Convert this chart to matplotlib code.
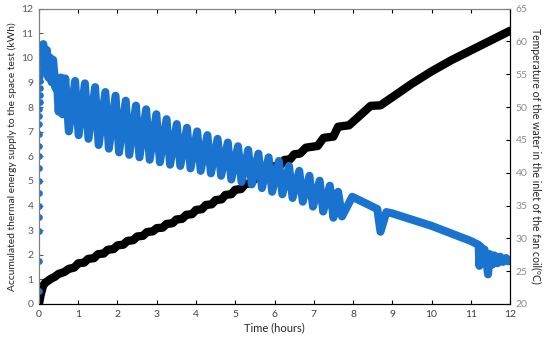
import matplotlib
matplotlib.use("Agg")
import matplotlib.pyplot as plt
import numpy as np

plt.rcParams['font.family'] = ['Lato', 'DejaVu Sans']

# accumulated thermal energy (kWh), left axis
energy_t = [0.0, 0.04, 0.1, 0.15, 0.3, 0.4, 0.5, 0.65, 0.75, 0.9,
            1.0, 1.15, 1.25, 1.4, 1.5, 1.65, 1.75, 1.9, 2.0, 2.15, 2.25, 2.4,
            2.5, 2.65, 2.75, 2.9, 3.0, 3.15, 3.25, 3.4, 3.5, 3.65, 3.75, 3.9,
            4.0, 4.15, 4.25, 4.4, 4.5, 4.65, 4.75, 4.9, 5.0, 5.15, 5.25, 5.4,
            5.5, 5.65, 5.75, 5.9, 6.0, 6.15, 6.25, 6.4, 6.5, 6.65, 6.8, 7.1,
            7.25, 7.5, 7.62, 7.9, 8.45, 8.7, 9.0, 9.5, 10.0, 10.5, 11.0, 11.5, 12.0]
energy_kwh = [0.0, 0.35, 0.72, 0.85, 1.02, 1.1, 1.22, 1.3, 1.42, 1.48,
              1.65, 1.68, 1.83, 1.86, 2.02, 2.05, 2.2, 2.23, 2.38, 2.41, 2.56, 2.59,
              2.74, 2.77, 2.92, 2.95, 3.08, 3.1, 3.25, 3.28, 3.43, 3.46, 3.62, 3.65,
              3.82, 3.85, 4.02, 4.05, 4.22, 4.25, 4.43, 4.46, 4.64, 4.67, 4.87, 4.9,
              5.1, 5.13, 5.35, 5.38, 5.6, 5.63, 5.85, 5.88, 6.08, 6.11, 6.35, 6.42,
              6.75, 6.8, 7.2, 7.26, 8.05, 8.07, 8.4, 8.95, 9.45, 9.9, 10.3, 10.7, 11.1]

# water temperature at fan coil inlet (C), right axis
# start-up points (separate dots on the axis)
start_t = [0.0, 0.0, 0.0, 0.0, 0.0, 0.0, 0.0, 0.0, 0.0, 0.0, 0.01, 0.01,
           0.01, 0.01, 0.02, 0.02, 0.02, 0.03, 0.03, 0.04, 0.05, 0.06, 0.08]
start_T = [21.9, 26.6, 31.1, 33.2, 35.0, 36.9, 38.8, 40.7, 42.6, 44.1, 45.9, 47.4,
           48.6, 49.7, 50.8, 51.9, 52.9, 53.9, 54.8, 55.7, 56.6, 57.5, 58.5]

# first oscillations after the peak
early_t = [0.11, 0.16, 0.2, 0.24, 0.28, 0.32, 0.36, 0.42, 0.45, 0.5, 0.56, 0.6]
early_T = [59.6, 55.3, 58.7, 54.5, 57.55, 53.8, 57.2, 52.9, 54.5, 49.3, 54.5, 48.9]

# regular cycles: peaks and troughs
peak_t = [0.67, 0.92, 1.17, 1.43, 1.69, 1.95, 2.21, 2.47, 2.73, 2.99, 3.25, 3.51,
          3.77, 4.03, 4.29, 4.55, 4.81, 5.07, 5.33, 5.59, 5.85, 6.11, 6.37, 6.63,
          6.89, 7.15, 7.41]
peak_T = [54.36, 53.98, 53.61, 53.04, 52.29, 51.73, 50.98, 50.23, 49.66, 48.91,
          48.16, 47.41, 46.85, 46.29, 45.72, 45.16, 44.6, 44.03, 43.47, 42.91,
          42.34, 41.78, 41.03, 40.28, 39.53, 38.78, 38.02]
trough_t = [0.76, 1.01, 1.26, 1.52, 1.78, 2.04, 2.3, 2.56, 2.82, 3.08, 3.34, 3.6,
            3.86, 4.12, 4.38, 4.64, 4.9, 5.16, 5.42, 5.68, 5.94, 6.2, 6.46, 6.72,
            6.98, 7.24, 7.5]
trough_T = [46.29, 45.72, 45.16, 44.22, 43.66, 43.09, 42.72, 42.34, 41.97, 41.59,
            41.22, 41.03, 40.65, 40.28, 39.9, 39.53, 38.96, 38.59, 38.21, 37.65,
            37.09, 36.71, 36.15, 35.58, 34.83, 34.08, 33.14]

# late part of the test
late_t = [7.62, 7.72, 7.98, 8.3, 8.62, 8.7, 8.85, 9.0, 10.0, 11.0, 11.2,
          11.22, 11.26, 11.3, 11.35, 11.4, 11.44, 11.48, 11.55, 11.6, 11.68,
          11.75, 11.82, 11.9, 11.96, 12.0]
late_T = [37.09, 33.33, 36.33, 35.4, 34.46, 31.0, 34.0, 33.8, 31.9, 29.6, 29.0,
          25.8, 28.7, 26.2, 28.3, 26.5, 24.5, 27.6, 26.0, 27.4, 26.2,
          27.2, 26.4, 27.0, 26.5, 26.7]

# build the temperature path
cyc_t = np.ravel(np.column_stack([peak_t, trough_t]))
cyc_T = np.ravel(np.column_stack([peak_T, trough_T]))
temp_t = np.concatenate([[start_t[-1]], early_t, cyc_t, late_t])
temp_T = np.concatenate([[start_T[-1]], early_T, cyc_T, late_T])

blue = '#1a73cf'

fig = plt.figure(figsize=(5.5, 3.45), dpi=100)
ax = fig.add_axes([0.0709, 0.119, 0.8564, 0.856])
ax2 = ax.twinx()

ax.plot(energy_t, energy_kwh, color='black', lw=6.0, solid_joinstyle='round',
        solid_capstyle='round')
ax2.plot(temp_t, temp_T, color=blue, lw=5.8, solid_joinstyle='round',
         solid_capstyle='round')
ax2.plot(start_t, start_T, 'o', color=blue, ms=4.8, mew=0)

ax.set_xlim(0, 12)
ax.set_ylim(0, 12)
ax2.set_ylim(20, 65)
ax.set_xticks(range(0, 13))
ax.set_yticks(range(0, 13))
ax2.set_yticks(range(20, 66, 5))

ax.tick_params(direction='in', length=3, labelsize=7.5, colors='#595959',
               top=True, pad=4)
ax.tick_params(axis='x', colors='black', labelcolor='#404040')
ax2.tick_params(direction='in', length=3, labelsize=7.5, colors='black',
                labelcolor='#8c8c8c', pad=4)

for a in (ax, ax2):
    a.spines['left'].set_color('#808080')
    a.spines['top'].set_color('#808080')
    a.spines['bottom'].set_color('black')
    a.spines['right'].set_color('black')

ax.set_xlabel('Time (hours)', fontsize=8, color='#262626', labelpad=3)
ax.set_ylabel('Accumulated thermal energy supply to the space test (kWh)',
              fontsize=7.4, color='#262626', labelpad=3)
ax2.set_ylabel('Temperature of the water in the inlet of the fan coil(ºC)',
               fontsize=7.6, color='#262626', rotation=-90, labelpad=10)

fig.savefig('out.png', dpi=100)
